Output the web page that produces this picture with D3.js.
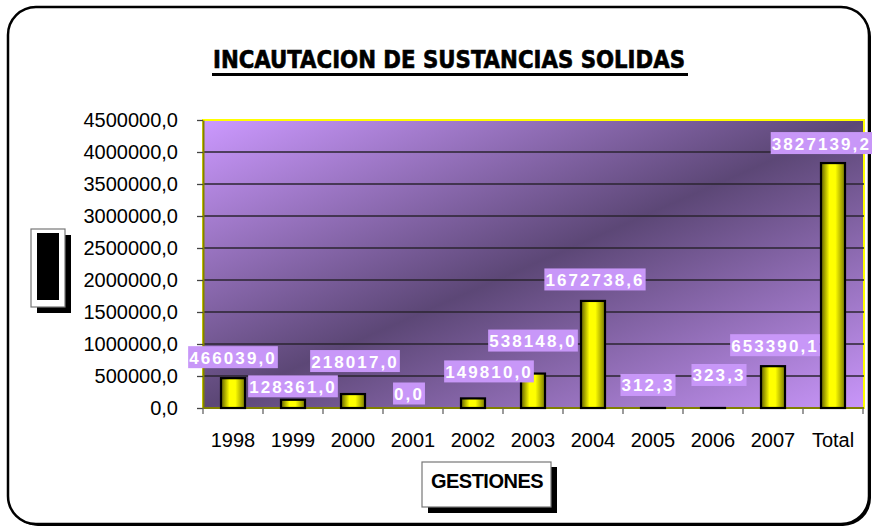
<!DOCTYPE html>
<html>
<head>
<meta charset="utf-8">
<script src="https://cdn.jsdelivr.net/npm/d3@7"></script>
<style>
  body { margin: 0; background: #fff; }
  svg { display: block; font-family: "Liberation Sans", Arial, sans-serif; }
</style>
</head>
<body>
<svg id="chart" width="874" height="529"></svg>
<script>
// data
const categories = ["1998", "1999", "2000", "2001", "2002", "2003", "2004", "2005", "2006", "2007", "Total"];
const values = [466039.0, 128361.0, 218017.0, 0.0, 149810.0, 538148.0, 1672738.6, 312.3, 323.3, 653390.1, 3827139.2];
const yTicks = [0, 500000, 1000000, 1500000, 2000000, 2500000, 3000000, 3500000, 4000000, 4500000];
// label nudges (dx, dy from bar top to label centre) - excel placed them by hand
const labelNudge = [[0, -21], [0, -13.5], [2, -33], [-4, -14.5], [16, -27], [0, -33], [2, -21.5], [-5, -23], [6, -33], [2, -21], [0, -20]];

const plot = { left: 203, right: 863, top: 120, bottom: 408 };
const fmt = v => d3.format(".1f")(v).replace(".", ",");
const FONT = "'Liberation Sans', Arial, sans-serif";

const svg = d3.select("#chart");
const defs = svg.append("defs");

// plot background gradient: light corners, dark diagonal band
const bg = defs.append("linearGradient").attr("id", "bg")
    .attr("x1", 0).attr("y1", 0).attr("x2", 1).attr("y2", 1);
bg.append("stop").attr("offset", 0).attr("stop-color", "#cc99ff");
bg.append("stop").attr("offset", 0.5).attr("stop-color", "#5c4776");
bg.append("stop").attr("offset", 1).attr("stop-color", "#c996fa");

// bar cylinder shading
const barG = defs.append("linearGradient").attr("id", "bar")
    .attr("x1", 0).attr("y1", 0).attr("x2", 1).attr("y2", 0);
barG.append("stop").attr("offset", 0).attr("stop-color", "#5e5e00");
barG.append("stop").attr("offset", 0.35).attr("stop-color", "#ffff00");
barG.append("stop").attr("offset", 0.6).attr("stop-color", "#ffff00");
barG.append("stop").attr("offset", 1).attr("stop-color", "#7a7a00");

// outer rounded frame
svg.append("rect")
    .attr("x", 10).attr("y", 9).attr("width", 861).attr("height", 517)
    .attr("rx", 28).attr("fill", "#000");
svg.append("rect")
    .attr("x", 8).attr("y", 7).attr("width", 861).attr("height", 517)
    .attr("rx", 28).attr("fill", "#fff").attr("stroke", "#000").attr("stroke-width", 2.5);

// title
svg.append("text")
    .attr("x", 449).attr("y", 68)
    .attr("text-anchor", "middle")
    .attr("textLength", 472).attr("lengthAdjust", "spacingAndGlyphs")
    .style("font-family", "'DejaVu Sans Condensed', 'DejaVu Sans', sans-serif")
    .style("font-weight", "bold").style("font-size", "25px")
    .attr("stroke", "#000").attr("stroke-width", 0.6)
    .text("INCAUTACION DE SUSTANCIAS SOLIDAS");
svg.append("rect")
    .attr("x", 212).attr("y", 73).attr("width", 476).attr("height", 3)
    .attr("fill", "#000");

const x = d3.scaleBand().domain(categories).range([plot.left, plot.right]);
const y = d3.scaleLinear().domain([0, 4500000]).range([plot.bottom, plot.top]);

// plot area
svg.append("rect")
    .attr("x", plot.left).attr("y", plot.top)
    .attr("width", plot.right - plot.left + 1).attr("height", plot.bottom - plot.top)
    .attr("fill", "url(#bg)")
    .attr("stroke", "#ffff00").attr("stroke-width", 2);

// gridlines
svg.append("g").selectAll("line")
    .data(yTicks.slice(1, -1))
    .enter().append("line")
    .attr("x1", plot.left).attr("x2", plot.right + 1)
    .attr("y1", d => y(d)).attr("y2", d => y(d))
    .attr("stroke", "#2b2530").attr("stroke-width", 1.3);

// y axis
const yAxis = svg.append("g")
    .attr("transform", `translate(${plot.left},0)`)
    .call(d3.axisLeft(y).tickValues(yTicks).tickFormat(fmt).tickSize(6).tickSizeOuter(0).tickPadding(19));
yAxis.attr("font-family", null).attr("font-size", null);
yAxis.select(".domain").attr("stroke", "#808000").attr("stroke-width", 2);
yAxis.selectAll(".tick line").attr("stroke", "#444").attr("stroke-width", 1.3);
yAxis.selectAll("text").style("font-family", FONT).style("font-size", "20px").attr("fill", "#000");

// x axis baseline + boundary ticks
svg.append("line")
    .attr("x1", plot.left).attr("x2", plot.right + 1)
    .attr("y1", plot.bottom).attr("y2", plot.bottom)
    .attr("stroke", "#808000").attr("stroke-width", 2);
const bounds = categories.map(c => x(c)).concat([x(categories[categories.length - 1]) + x.bandwidth()]);
svg.append("g").selectAll("line")
    .data(bounds)
    .enter().append("line")
    .attr("x1", d => d).attr("x2", d => d)
    .attr("y1", plot.bottom).attr("y2", plot.bottom + 6)
    .attr("stroke", "#666").attr("stroke-width", 1.3);

const xAxis = svg.append("g")
    .attr("transform", `translate(0,${plot.bottom})`)
    .call(d3.axisBottom(x).tickSize(0));
xAxis.attr("font-family", null).attr("font-size", null);
xAxis.select(".domain").remove();
xAxis.selectAll("text")
    .attr("dy", null).attr("y", 39)
    .style("font-family", FONT).style("font-size", "20px").attr("fill", "#000");

// bars
const barW = x.bandwidth() * 0.4;
svg.append("g").selectAll("rect")
    .data(values)
    .enter().append("rect")
    .attr("x", (d, i) => x(categories[i]) + (x.bandwidth() - barW) / 2)
    .attr("y", d => y(d))
    .attr("width", barW)
    .attr("height", d => y(0) - y(d))
    .attr("fill", "url(#bar)")
    .attr("stroke", "#000").attr("stroke-width", 2.2);

// data labels
const labels = svg.append("g").selectAll("g")
    .data(values)
    .enter().append("g");
labels.append("rect").attr("fill", "#c897f8");
labels.append("text")
    .attr("text-anchor", "middle")
    .attr("y", 6.5)
    .style("font-family", FONT)
    .style("font-size", "17px").style("font-weight", "bold")
    .style("letter-spacing", "2.1px")
    .attr("fill", "#fff")
    .text(fmt);
labels.each(function (d, i) {
    const g = d3.select(this);
    const b = g.select("text").node().getBBox();
    g.select("rect")
        .attr("x", b.x - 1).attr("y", -11)
        .attr("width", b.width + 2).attr("height", 22);
    let cx = x(categories[i]) + x.bandwidth() / 2 + labelNudge[i][0];
    // keep the box inside the page
    const overflow = cx + b.x + b.width + 1 - 872;
    if (overflow > 0) cx -= overflow;
    g.attr("transform", `translate(${cx},${y(d) + labelNudge[i][1]})`);
});

// y title box (empty, drawn as shaded block)
svg.append("rect").attr("x", 37).attr("y", 235).attr("width", 34).attr("height", 78).attr("fill", "#000");
svg.append("rect").attr("x", 31).attr("y", 229).attr("width", 34).attr("height", 78)
    .attr("fill", "#fff").attr("stroke", "#777").attr("stroke-width", 1.2);
svg.append("rect").attr("x", 37).attr("y", 233).attr("width", 22).attr("height", 67).attr("fill", "#000");

// x title box
svg.append("rect").attr("x", 428).attr("y", 467).attr("width", 129).attr("height", 46).attr("fill", "#000");
svg.append("rect").attr("x", 422).attr("y", 462).attr("width", 129).attr("height", 45)
    .attr("fill", "#fff").attr("stroke", "#777").attr("stroke-width", 1.2);
svg.append("text")
    .attr("x", 487).attr("y", 488)
    .attr("text-anchor", "middle")
    .style("font-size", "20px").style("font-weight", "bold")
    .style("letter-spacing", "-0.5px")
    .text("GESTIONES");
</script>
</body>
</html>
